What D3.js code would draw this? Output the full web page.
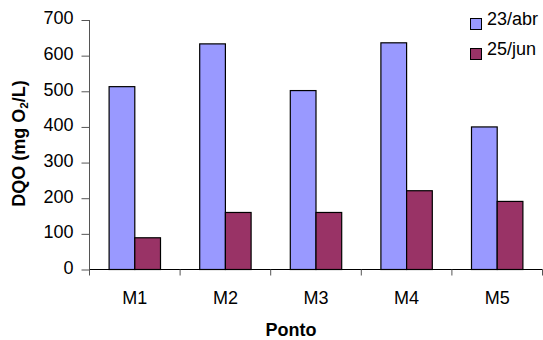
<!DOCTYPE html>
<html>
<head>
<meta charset="utf-8">
<script src="https://cdn.jsdelivr.net/npm/d3@7"></script>
<style>
  html, body { margin: 0; padding: 0; background: #fff; }
  svg { display: block; font-family: "Liberation Sans", Arial, sans-serif; }
</style>
</head>
<body>
<svg id="chart" width="543" height="340"></svg>
<script>
const categories = ["M1", "M2", "M3", "M4", "M5"];
const seriesNames = ["23/abr", "25/jun"];
const abr = [513, 633, 502, 636, 400];
const jun = [89, 160, 160, 221, 191];
const yTicks = [0, 100, 200, 300, 400, 500, 600, 700];
const colors = ["#9999FF", "#993366"];

const data = categories.map((c, i) => ({ cat: c, values: [abr[i], jun[i]] }));

const svg = d3.select("#chart");
const fontSize = 18;

const x = d3.scaleBand().domain(categories).range([89.5, 542.5]).paddingInner(0).paddingOuter(0);
const xInner = d3.scaleBand().domain(seriesNames).range([19.6, 71]).padding(0);
const y = d3.scaleLinear().domain([0, 700]).range([269.5, 20]);

// bars
const groups = svg.append("g").selectAll("g").data(data).join("g")
  .attr("transform", d => `translate(${x(d.cat)},0)`);
groups.selectAll("rect").data(d => d.values.map((v, j) => ({ v, j })))
  .join("rect")
  .attr("x", d => xInner(seriesNames[d.j]))
  .attr("y", d => y(d.v))
  .attr("width", xInner.bandwidth())
  .attr("height", d => y(0) - y(d.v))
  .attr("fill", d => colors[d.j])
  .attr("stroke", "#000")
  .attr("stroke-width", 1.2);

// y axis
const yAxis = svg.append("g").attr("transform", "translate(89.5,0)")
  .call(d3.axisLeft(y).tickValues(yTicks).tickSize(8).tickPadding(8).tickFormat(d3.format("d")));
yAxis.select(".domain").attr("stroke", "#555").attr("d", `M0,${y(700)}V${y(0)}`);
yAxis.selectAll(".tick line").attr("stroke", "#555");
yAxis.selectAll(".tick text").attr("font-size", fontSize).attr("fill", "#000")
  .attr("font-family", "Liberation Sans, Arial, sans-serif").attr("dy", "0.22em");

// x axis
const xAxis = svg.append("g").attr("transform", `translate(0,${y(0)})`)
  .call(d3.axisBottom(x).tickSize(0).tickPadding(22));
xAxis.select(".domain").attr("stroke", "#000").attr("d", `M89.5,0H542.5`);
xAxis.selectAll(".tick text").attr("font-size", fontSize).attr("fill", "#000")
  .attr("font-family", "Liberation Sans, Arial, sans-serif");
// category boundary ticks
const bounds = categories.map(c => x(c)).concat([x(categories[categories.length - 1]) + x.bandwidth()]);
xAxis.selectAll("line.bound").data(bounds).join("line").attr("class", "bound")
  .attr("x1", d => d).attr("x2", d => d).attr("y1", 0).attr("y2", 6)
  .attr("stroke", "#555");

// axis titles
svg.append("text").attr("x", 291).attr("y", 335.5).attr("text-anchor", "middle")
  .attr("font-size", fontSize).attr("font-weight", "bold").text("Ponto");

const yt = svg.append("text").attr("transform", "translate(25,143.5) rotate(-90)")
  .attr("text-anchor", "middle").attr("font-size", fontSize).attr("font-weight", "bold");
yt.append("tspan").text("DQO (mg O");
yt.append("tspan").attr("font-size", fontSize * 0.65).attr("dy", 3).text("2");
yt.append("tspan").attr("dy", -3).text("/L)");

// legend
const legend = svg.append("g").selectAll("g").data(seriesNames).join("g")
  .attr("transform", (d, i) => `translate(470.5,${18.5 + i * 30})`);
legend.append("rect").attr("width", 11).attr("height", 11)
  .attr("fill", (d, i) => colors[i]).attr("stroke", "#000").attr("stroke-width", 1);
legend.append("text").attr("x", 16.5).attr("y", 6.7).attr("font-size", fontSize)
  .attr("font-family", "Liberation Sans, Arial, sans-serif").text(d => d);
</script>
</body>
</html>
